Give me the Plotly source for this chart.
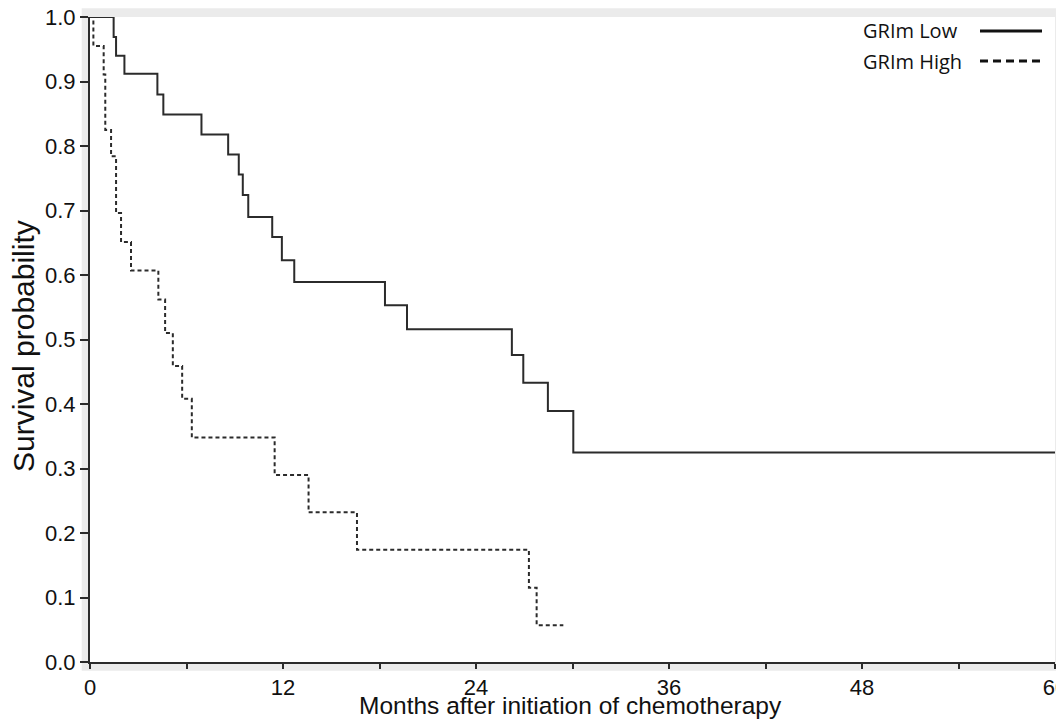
import plotly.graph_objects as go

# ---- data ----
low_months = [0, 1.47, 1.62, 2.14, 4.19, 4.56, 6.93, 8.59, 9.25, 9.50, 9.84, 11.33,
              11.93, 12.70, 18.34, 19.71, 26.23, 26.94, 28.47, 30.05, 60]
low_surv = [1.0, 0.969, 0.940, 0.912, 0.880, 0.849, 0.818, 0.787, 0.756, 0.724, 0.690,
            0.659, 0.623, 0.589, 0.553, 0.516, 0.476, 0.433, 0.389, 0.325, 0.325]

high_months = [0, 0.21, 0.85, 0.95, 1.31, 1.62, 1.93, 2.55, 4.25, 4.67, 5.15, 5.73, 6.33,
               11.48, 13.59, 16.60, 27.29, 27.77, 29.43]
high_surv = [1.0, 0.955, 0.911, 0.825, 0.784, 0.696, 0.651, 0.607, 0.562, 0.510, 0.459,
             0.408, 0.348, 0.290, 0.232, 0.174, 0.115, 0.057, 0.057]

series_names = ["GRIm Low", "GRIm High"]

x_tickvals = [0, 6, 12, 18, 24, 30, 36, 42, 48, 54, 60]
x_ticktext = ["0", "", "12", "", "24", "", "36", "", "48", "", "60"]
y_tickvals = [0.0, 0.1, 0.2, 0.3, 0.4, 0.5, 0.6, 0.7, 0.8, 0.9, 1.0]
y_ticktext = ["0.0", "0.1", "0.2", "0.3", "0.4", "0.5", "0.6", "0.7", "0.8", "0.9", "1.0"]

x_title = "Months after initiation of chemotherapy"
y_title = "Survival probability"

# ---- style ----
OFF = 8                      # page body margin offset of the html page
W, H = 1064 - OFF, 725 - OFF
ML, MR, MT, MB = 90 - OFF, 9, 17 - OFF, 63
PW, PH = W - ML - MR, H - MT - MB
LINE = "#2b2b2b"
FRAME = "#ebebeb"
FONT = "Liberation Sans, Arial, sans-serif"

fig = go.Figure()
fig.add_trace(go.Scatter(x=low_months, y=low_surv, mode="lines", name=series_names[0],
                         line=dict(color=LINE, width=2, shape="hv"),
                         cliponaxis=False, showlegend=False))
fig.add_trace(go.Scatter(x=high_months, y=high_surv, mode="lines", name=series_names[1],
                         line=dict(color=LINE, width=2, shape="hv", dash="4px,3px"),
                         cliponaxis=False, showlegend=False))

# helpers: convert screen pixel (reference image) to paper fraction
def px_x(p):
    return (p - OFF - ML) / PW

def px_y(p):
    return (H - MB - (p - OFF)) / PH

shapes = [
    dict(type="rect", xref="paper", yref="paper", layer="below",
         x0=px_x(81.7), x1=px_x(1070), y0=px_y(670.7), y1=px_y(8.3),
         fillcolor=FRAME, line=dict(width=0)),
    dict(type="rect", xref="paper", yref="paper", layer="below",
         x0=0, x1=1, y0=0, y1=1, fillcolor="white", line=dict(width=0)),
]

annotations = [
    dict(x=px_x(570), y=px_y(705), xref="paper", yref="paper", text=x_title,
         showarrow=False, xanchor="center", yanchor="middle",
         font=dict(family=FONT, size=24.5, color="#111")),
    dict(x=px_x(23), y=px_y(346), xref="paper", yref="paper", text=y_title,
         showarrow=False, xanchor="center", yanchor="middle", textangle=-90,
         font=dict(family=FONT, size=30, color="#111")),
]

# custom legend (text left, line sample right)
leg_text_x = px_x(861)
leg_line_x0, leg_line_x1 = px_x(980), px_x(1042)
leg_rows = [px_y(31), px_y(61)]
leg_dash = ["solid", "8px,5px"]
for name, yy, dash in zip(series_names, leg_rows, leg_dash):
    annotations.append(dict(x=leg_text_x, y=yy, xref="paper", yref="paper", text=name,
                            showarrow=False, xanchor="left", yanchor="middle",
                            font=dict(family="Open Sans, Lato, sans-serif", size=20, color="#111")))
    shapes.append(dict(type="line", xref="paper", yref="paper", x0=leg_line_x0, x1=leg_line_x1,
                       y0=yy, y1=yy, line=dict(color="#111", width=3, dash=dash)))

fig.update_layout(
    width=W, height=H,
    margin=dict(l=ML, r=MR, t=MT, b=MB, autoexpand=False),
    paper_bgcolor="white", plot_bgcolor="white",
    shapes=shapes, annotations=annotations,
    font=dict(family=FONT, color="#111"),
    xaxis=dict(range=[0, 60], tickvals=x_tickvals, ticktext=x_ticktext, automargin=False,
               showgrid=False, zeroline=False, showline=True, linecolor=LINE, linewidth=2,
               ticks="outside", ticklen=5, tickwidth=2, tickcolor=LINE,
               ticklabelstandoff=0, ticklabeloverflow="allow",
               tickfont=dict(family=FONT, size=22, color="#111")),
    yaxis=dict(range=[0, 1], tickvals=y_tickvals, ticktext=y_ticktext, automargin=False,
               showgrid=False, zeroline=False, showline=True, linecolor=LINE, linewidth=2,
               ticks="outside", ticklen=8, tickwidth=2, tickcolor=LINE,
               ticklabelstandoff=0, ticklabeloverflow="allow",
               tickfont=dict(family=FONT, size=22, color="#111")),
)

fig.write_html("out.html")
